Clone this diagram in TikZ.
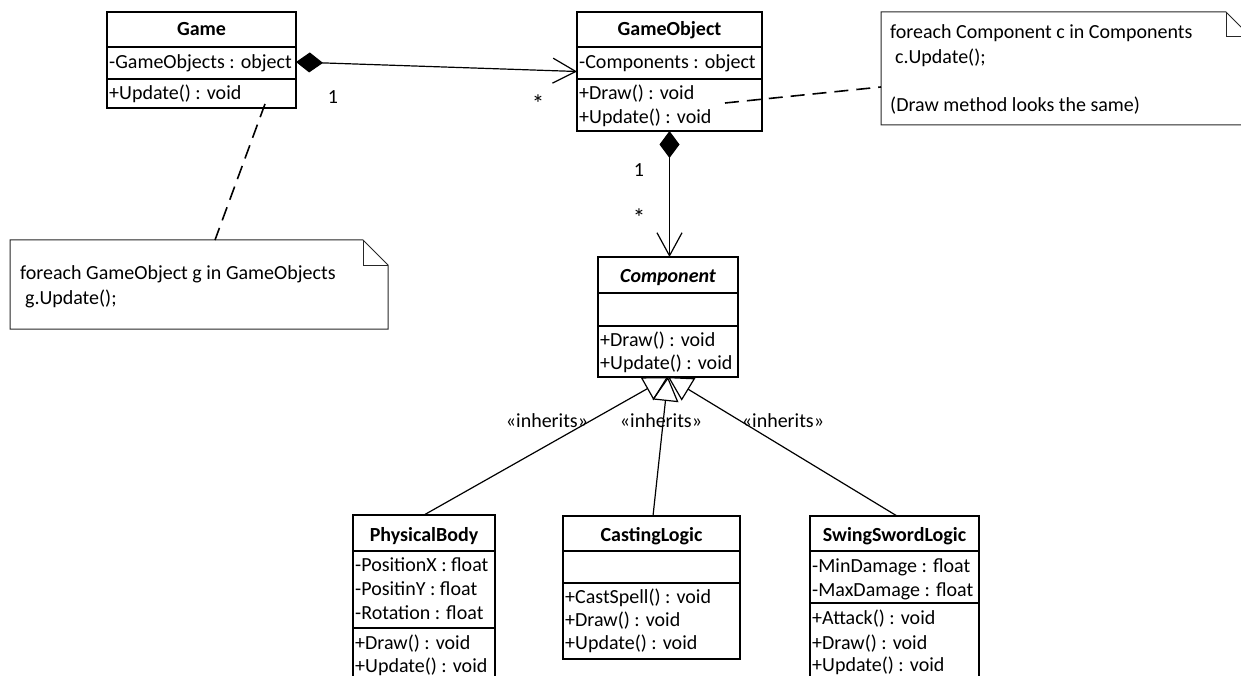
\documentclass[tikz,border=0pt]{standalone}
\usepackage{fontspec}
\setmainfont{Carlito}
\usetikzlibrary{arrows.meta}
\begin{document}
\begin{tikzpicture}[x=1pt,y=-1pt,
  every node/.style={font=\fontsize{20}{24}\selectfont},
  classbox/.style={draw, line width=1.6pt, inner sep=0pt, outer sep=0pt, anchor=north west},
  sepline/.style={line width=1.6pt},
  row/.style={anchor=west, inner sep=0pt, text height=13pt, text depth=0pt},
  head/.style={inner sep=0pt, text height=13pt, text depth=0pt, font=\fontsize{20}{24}\selectfont\bfseries},
  notebox/.style={inner sep=0pt, outer sep=0pt, anchor=north west},
  noteline/.style={line width=1pt, draw=black!85},
  conn/.style={line width=1.2pt},
  dashconn/.style={line width=1.6pt, dash pattern=on 14pt off 8pt},
  compose/.style={conn, {Diamond[length=27pt,width=20pt]}-{Straight Barb[length=23pt,width=25pt]}},
  inherit/.style={conn, -{Triangle[open,length=24pt,width=26pt]}},
  lbl/.style={inner sep=0pt, text height=13pt, text depth=0pt},
  star/.style={inner sep=0pt, text height=13pt, text depth=0pt, font=\fontsize{25}{24}\selectfont}
]
\useasboundingbox (0,0) rectangle (1241,676);
\clip (0,0) rectangle (1241,676);

% ---------- Game ----------
\node[classbox, minimum width=189pt, minimum height=96pt] (game) at (107,12) {};
\draw[sepline] (game.west |- 0,47) -- (game.east |- 0,47);
\draw[sepline] (game.west |- 0,79) -- (game.east |- 0,79);
\node[head] (gameh) at (game.north |- 0,29) {Game};
\node[row] (gattr) at (109,62) {-GameObjects : object};
\node[row] (gmeth) at (109,93) {+Update() : void};

% ---------- GameObject ----------
\node[classbox, minimum width=185pt, minimum height=119pt] (gobj) at (577,12) {};
\draw[sepline] (gobj.west |- 0,47) -- (gobj.east |- 0,47);
\draw[sepline] (gobj.west |- 0,79) -- (gobj.east |- 0,79);
\node[head] (gobjh) at (gobj.north |- 0,29) {GameObject};
\node[row] (goattr) at (579,62) {-Components : object};
\node[row] (gom1) at (579,93) {+Draw() : void};
\node[row] (gom2) at (579,117) {+Update() : void};

% ---------- Component ----------
\node[classbox, minimum width=140pt, minimum height=120pt] (comp) at (598,257) {};
\draw[sepline] (comp.west |- 0,293) -- (comp.east |- 0,293);
\draw[sepline] (comp.west |- 0,326) -- (comp.east |- 0,326);
\node[head, font=\fontsize{20}{24}\selectfont\bfseries\itshape] (comph) at (comp.north |- 0,276) {Component};
\node[row] (cm1) at (600,340) {+Draw() : void};
\node[row] (cm2) at (600,363) {+Update() : void};

% ---------- PhysicalBody ----------
\node[classbox, minimum width=142pt, minimum height=185pt] (phys) at (353,515) {};
\draw[sepline] (phys.west |- 0,551) -- (phys.east |- 0,551);
\draw[sepline] (phys.west |- 0,628) -- (phys.east |- 0,628);
\node[head] (physh) at (phys.north |- 0,535) {PhysicalBody};
\node[row] (pa1) at (355,565) {-PositionX : float};
\node[row] (pa2) at (355,589) {-PositinY : float};
\node[row] (pa3) at (355,613) {-Rotation : float};
\node[row] (pm1) at (355,643) {+Draw() : void};
\node[row] (pm2) at (355,666) {+Update() : void};

% ---------- CastingLogic ----------
\node[classbox, minimum width=177pt, minimum height=143pt] (cast) at (563,516) {};
\draw[sepline] (cast.west |- 0,551) -- (cast.east |- 0,551);
\draw[sepline] (cast.west |- 0,583) -- (cast.east |- 0,583);
\node[head] (casth) at (cast.north |- 0,535) {CastingLogic};
\node[row] (clm1) at (565,597) {+CastSpell() : void};
\node[row] (clm2) at (565,620) {+Draw() : void};
\node[row] (clm3) at (565,643) {+Update() : void};

% ---------- SwingSwordLogic ----------
\node[classbox, minimum width=169pt, minimum height=184pt] (swing) at (810,516) {};
\draw[sepline] (swing.west |- 0,551) -- (swing.east |- 0,551);
\draw[sepline] (swing.west |- 0,603) -- (swing.east |- 0,603);
\node[head] (swingh) at (swing.north |- 0,535) {SwingSwordLogic};
\node[row] (sa1) at (812,566) {-MinDamage : float};
\node[row] (sa2) at (812,590) {-MaxDamage : float};
\node[row] (sm1) at (812,618) {+Attack() : void};
\node[row] (sm2) at (812,643) {+Draw() : void};
\node[row] (sm3) at (812,665) {+Update() : void};

% ---------- Notes ----------
\node[notebox, minimum width=378pt, minimum height=89pt] (lnote) at (10,240) {};
\draw[noteline] (lnote.north west) -- ([xshift=-25pt]lnote.north east) -- ([yshift=-25pt]lnote.north east)
  -- (lnote.south east) -- (lnote.south west) -- cycle;
\draw[noteline] ([xshift=-25pt]lnote.north east) -- ([xshift=-25pt,yshift=-25pt]lnote.north east) -- ([yshift=-25pt]lnote.north east);
\node[row] (ln1) at (20,273) {foreach GameObject g in GameObjects};
\node[row] (ln2) at (25,298) {g.Update();};

\node[notebox, minimum width=370pt, minimum height=113pt] (rnote) at (881,12) {};
\draw[noteline] (rnote.north west) -- ([xshift=-25pt]rnote.north east) -- ([yshift=-25pt]rnote.north east)
  -- (rnote.south east) -- (rnote.south west) -- cycle;
\draw[noteline] ([xshift=-25pt]rnote.north east) -- ([xshift=-25pt,yshift=-25pt]rnote.north east) -- ([yshift=-25pt]rnote.north east);
\node[row] (rn1) at (890,32) {foreach Component c in Components};
\node[row] (rn2) at (895,57) {c.Update();};
\node[row] (rn3) at (890,105) {(Draw method looks the same)};

% ---------- Connectors ----------
\draw[compose] (game.east |- gattr.west) -- (gobj.west);
\draw[compose] (gobj.south) -- (gobj.south |- comp.north);
\draw[inherit] (phys.north) -- (comp.south);
\draw[inherit] ([xshift=1.5pt]cast.north) -- (comp.south);
\draw[inherit] ([xshift=2.5pt]swing.north) -- (comp.south);
\draw[dashconn] ([xshift=63.5pt,yshift=4pt]game.south) -- ([xshift=16pt]lnote.north);
\draw[dashconn] ([xshift=55.5pt,yshift=-31.5pt]gobj.center) -- ([yshift=-18.5pt]rnote.west);

% ---------- Labels ----------
\node[lbl] (m1) at (333,97) {1};
\node[star] (m2) at (538,106) {*};
\node[lbl] (m3) at (639,170) {1};
\node[star] (m4) at (639,220) {*};
\node[lbl] (i1) at (547,421) {«inherits»};
\node[lbl] (i2) at (661,421) {«inherits»};
\node[lbl] (i3) at (783,421) {«inherits»};
\end{tikzpicture}
\end{document}
